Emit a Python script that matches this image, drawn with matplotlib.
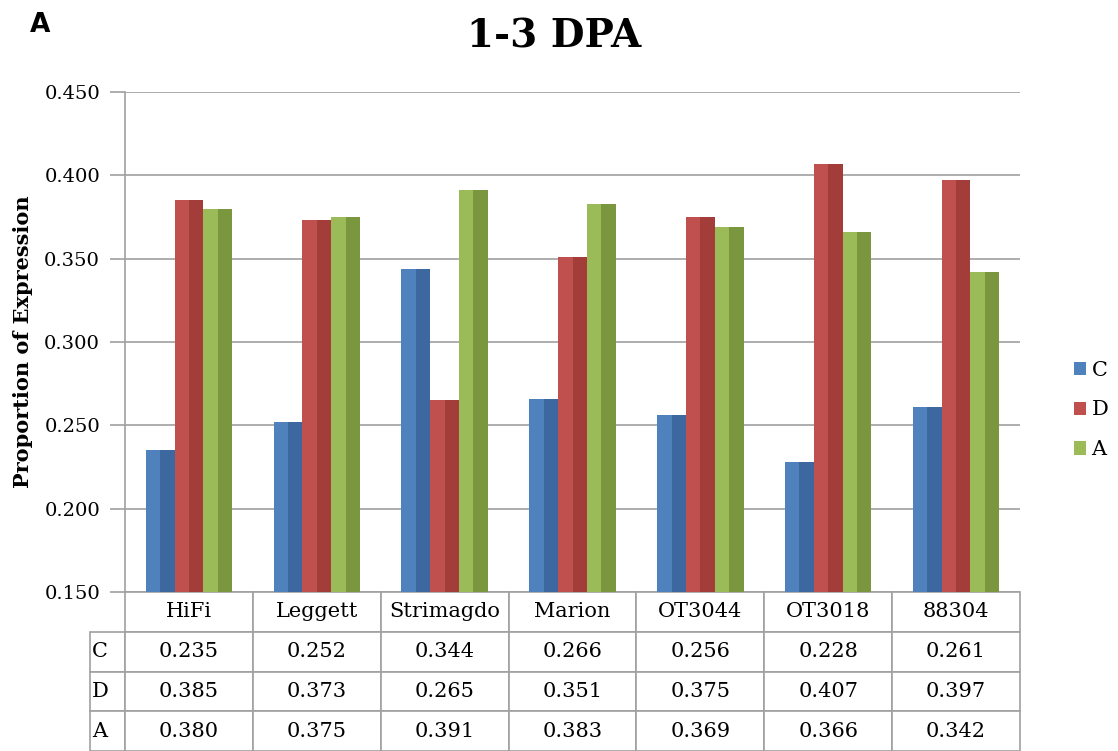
import matplotlib
matplotlib.use("Agg")
import matplotlib.pyplot as plt
import numpy as np

categories = ["HiFi", "Leggett", "Strimagdo", "Marion", "OT3044", "OT3018", "88304"]
series_names = ["C", "D", "A"]
C_vals = [0.235, 0.252, 0.344, 0.266, 0.256, 0.228, 0.261]
D_vals = [0.385, 0.373, 0.265, 0.351, 0.375, 0.407, 0.397]
A_vals = [0.380, 0.375, 0.391, 0.383, 0.369, 0.366, 0.342]
yticks = [0.150, 0.200, 0.250, 0.300, 0.350, 0.400, 0.450]

colors = ["#4F81BD", "#C0504D", "#9BBB59"]
dark = ["#2D5287", "#8B2E2B", "#5F7A2C"]
serif = ["DejaVu Serif"]

fig = plt.figure(figsize=(11.18, 7.51), dpi=100)
ax = fig.add_axes([125/1118, (751-592)/751, (1020-125)/1118, 500/751])

x = np.arange(len(categories))
w = 0.225
handles = []
for i, (vals, c, d) in enumerate(zip([C_vals, D_vals, A_vals], colors, dark)):
    pos = x + (i - 1) * w
    vals = np.array(vals)
    h = ax.bar(pos, vals - 0.15, w, bottom=0.15, color=c, edgecolor="none", zorder=3, label=series_names[i])
    # darker right side to imitate the bevel shading
    ax.bar(pos + w * 0.25, vals - 0.15, w * 0.5, bottom=0.15, color=d, edgecolor="none", zorder=3, alpha=0.55)
    handles.append(h)

ax.set_xlim(-0.5, len(categories) - 0.5)
ax.set_ylim(0.15, 0.45)
ax.set_yticks(yticks)
ax.set_yticklabels([f"{v:.3f}" for v in yticks], fontsize=14, family=serif)
ax.yaxis.grid(True, color="#A0A0A0", linewidth=1.2, zorder=0)
ax.set_xticks([])
for s in ["top", "right", "bottom"]:
    ax.spines[s].set_visible(False)
ax.spines["left"].set_color("#A0A0A0")
ax.spines["left"].set_linewidth(1.2)
ax.tick_params(axis="y", length=11, color="#A0A0A0", width=1.2, pad=7)

ax.set_ylabel("Proportion of Expression", fontsize=15, fontweight="bold", family=serif, labelpad=8)
fig.text(554/1118, 1 - 37/751, "1-3 DPA", ha="center", va="center", fontsize=28, fontweight="bold", family=serif)
fig.text(40/1118, 1 - 25/751, "A", ha="center", va="center", fontsize=19, fontweight="bold", family=["DejaVu Sans"])

# data table
cell_text = [[""] + categories]
for name, vals in zip(series_names, [C_vals, D_vals, A_vals]):
    cell_text.append([name] + [f"{v:.3f}" for v in vals])
axw = 1020 - 125
lab_w = 35 / axw
col_w = 1 / len(categories)
tbl = ax.table(cellText=cell_text, cellLoc="center",
               colWidths=[lab_w] + [col_w] * len(categories),
               bbox=[-lab_w, -159/500, 1 + lab_w, 159/500])
tbl.auto_set_font_size(False)
for (r, c), cell in tbl.get_celld().items():
    cell.set_edgecolor("#A0A0A0")
    cell.set_linewidth(1.2)
    cell.get_text().set_fontsize(15)
    cell.get_text().set_family(serif)
    if r == 0 and c == 0:
        cell.visible_edges = ""
    if c == 0:
        cell.get_text().set_ha("left")
        cell.PAD = 0.05

leg = fig.legend(handles=handles, labels=series_names, loc="center left",
                 bbox_to_anchor=(1055/1118, 1 - 410/751), frameon=False,
                 prop={"family": serif, "size": 15}, handlelength=0.6, handleheight=0.6,
                 labelspacing=1.0, handletextpad=0.25)

fig.savefig("out.png", dpi=100)
